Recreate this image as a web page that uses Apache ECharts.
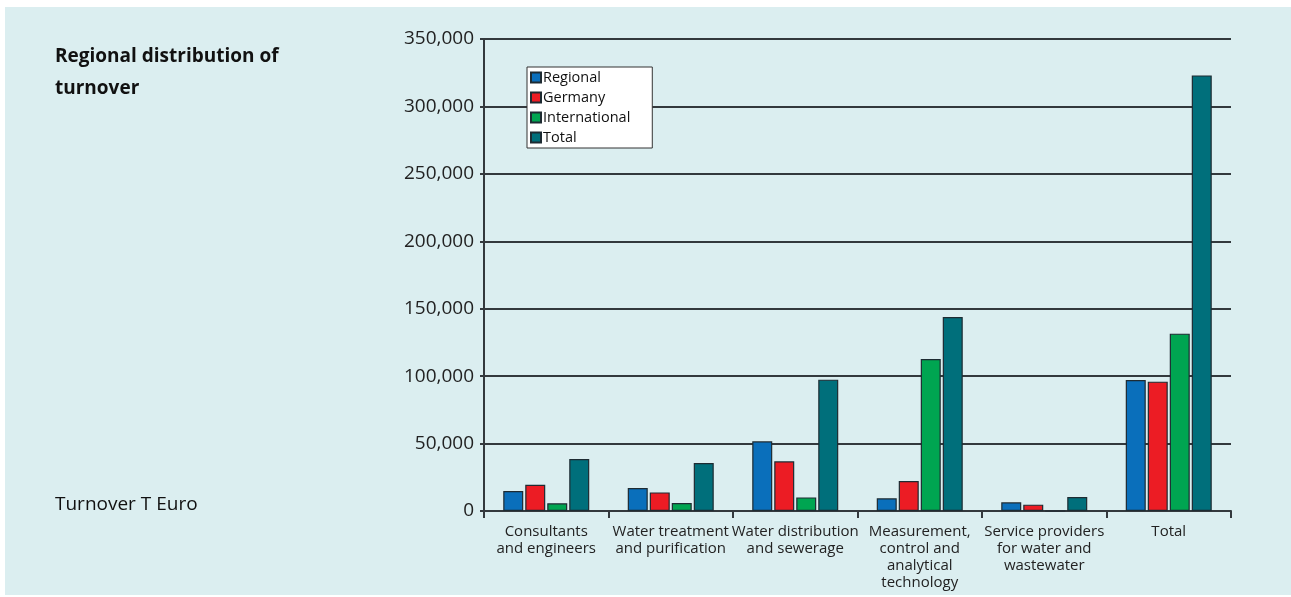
<!DOCTYPE html>
<html>
<head>
<meta charset="utf-8">
<script src="https://cdn.jsdelivr.net/npm/echarts@6/dist/echarts.min.js"></script>
<style>
  html, body { margin: 0; padding: 0; background: #ffffff; }
  #chart { width: 1291px; height: 597px; }
</style>
</head>
<body>
<div id="chart"></div>
<script>
const categories = [
  'Consultants\nand engineers',
  'Water treatment\nand purification',
  'Water distribution\nand sewerage',
  'Measurement,\ncontrol and\nanalytical\ntechnology',
  'Service providers\nfor water and\nwastewater',
  'Total'
];
const regional      = [14800, 17000, 51700, 9400, 6400, 97100];
const germany       = [19500, 13800, 36800, 22200, 4700, 95900];
const international = [5700, 5900, 10100, 112700, 0, 131500];
const total         = [38600, 35600, 97400, 143800, 10400, 323000];
const seriesNames = ['Regional', 'Germany', 'International', 'Total'];
const colors = ['#0a6fbb', '#ec1c24', '#00a551', '#006f7b'];
const yTicks = { min: 0, max: 350000, interval: 50000 };

const chart = echarts.init(document.getElementById('chart'), null, { renderer: 'canvas' });
const font = "'Open Sans', 'Noto Sans', sans-serif";
const narrow = "'Liberation Sans Narrow', 'Open Sans', sans-serif";

function mk(name, data, i) {
  return {
    name: name,
    type: 'bar',
    data: data,
    barWidth: 20,
    barGap: '10%',
    itemStyle: { color: colors[i], borderColor: '#1e2b32', borderWidth: 1.2 },
    emphasis: { disabled: true }
  };
}

chart.setOption({
  animation: false,
  backgroundColor: '#ffffff',
  graphic: [
    { type: 'rect', z: -10, shape: { x: 5, y: 7, width: 1291, height: 588 }, style: { fill: '#dbeef0' } },
    { type: 'text', left: 55, top: 47, style: { text: 'Regional distribution of', font: 'bold 19px ' + font, fill: '#111' } },
    { type: 'text', left: 55, top: 79, style: { text: 'turnover', font: 'bold 19px ' + font, fill: '#111' } },
    { type: 'text', left: 55, top: 495, style: { text: 'Turnover T Euro', font: '19px ' + font, fill: '#111' } }
  ],
  color: colors,
  legend: {
    data: seriesNames,
    orient: 'vertical',
    left: 527,
    top: 67,
    backgroundColor: '#ffffff',
    borderColor: '#333',
    borderWidth: 1,
    padding: [3, 22, 3, 3],
    itemWidth: 10,
    itemHeight: 10,
    itemGap: 5,
    icon: 'rect',
    textStyle: { fontFamily: font, fontSize: 14.5, color: '#111', padding: [0, 0, 0, -3] }
  },
  grid: { left: 484, right: 60, top: 39, bottom: 86, containLabel: false },
  xAxis: {
    type: 'category',
    data: categories,
    axisLine: { lineStyle: { color: '#33393d', width: 2 } },
    axisTick: { show: true, length: 7, lineStyle: { color: '#33393d', width: 2 } },
    axisLabel: { interval: 0, fontFamily: narrow, fontSize: 15, lineHeight: 17, color: '#222', margin: 12 }
  },
  yAxis: {
    type: 'value',
    min: yTicks.min,
    max: yTicks.max,
    interval: yTicks.interval,
    axisLine: { show: true, lineStyle: { color: '#33393d', width: 2 } },
    axisTick: { show: true, length: 4, lineStyle: { color: '#33393d', width: 2 } },
    splitLine: { lineStyle: { color: '#33393d', width: 2 } },
    axisLabel: {
      fontFamily: font, fontSize: 19, color: '#222', margin: 10,
      formatter: v => v.toLocaleString('en-US')
    }
  },
  series: [
    mk('Regional', regional, 0),
    mk('Germany', germany, 1),
    mk('International', international, 2),
    mk('Total', total, 3)
  ]
});
</script>
</body>
</html>
